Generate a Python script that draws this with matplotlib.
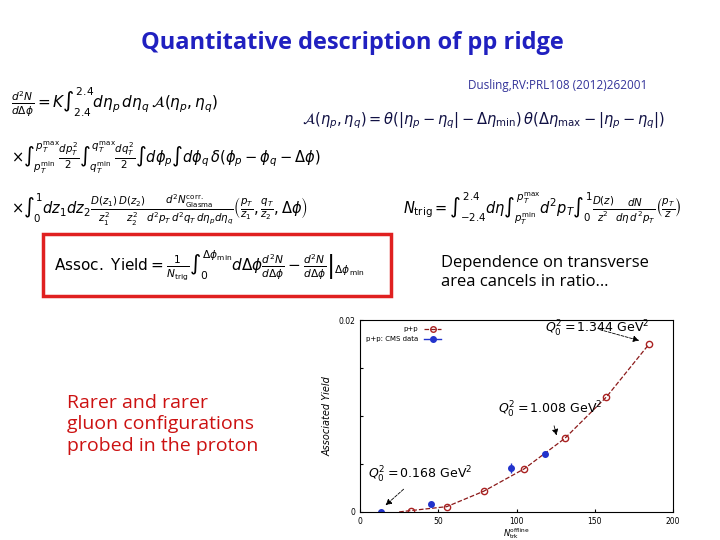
import numpy as np
import matplotlib.pyplot as plt
from matplotlib.patches import Rectangle

# model curve p+p (open circles) and CMS data (filled)
model_n = [32.4, 55.4, 78.9, 104.9, 130.7, 157.4, 184.4]
model_y = [0.00014, 0.00055, 0.00215, 0.0045, 0.00766, 0.0120, 0.01747]
line_n = [25, 32.4, 55.4, 78.9, 104.9, 130.7, 157.4, 184.4]
line_y = [0.0, 0.00014, 0.00055, 0.00215, 0.0045, 0.00766, 0.0120, 0.01747]
cms_n = [13.2, 45.6, 96.6, 118.1]
cms_y = [0.0, 0.00083, 0.00458, 0.00607]
cms_err = [0.0001, 0.0002, 0.0005, 0.0003]

fig = plt.figure(figsize=(7.2, 5.4), dpi=100)
fig.patch.set_facecolor("white")

fig.text(0.49, 0.91, "Quantitative description of pp ridge", ha="center",
         fontsize=17, fontweight="bold", color="#2020c0", family="Open Sans")
fig.text(0.65, 0.835, "Dusling,RV:PRL108 (2012)262001", fontsize=8.5,
         color="#333399", family="Open Sans")

fig.text(0.015, 0.80, r"$\frac{d^2N}{d\Delta\phi}=K\int_{2.4}^{2.4}d\eta_p\,d\eta_q\,\mathcal{A}(\eta_p,\eta_q)$",
         fontsize=11)
fig.text(0.42, 0.77, r"$\mathcal{A}(\eta_p,\eta_q)=\theta(|\eta_p-\eta_q|-\Delta\eta_{\min})\,\theta(\Delta\eta_{\max}-|\eta_p-\eta_q|)$",
         fontsize=10.5, color="#111144")
fig.text(0.015, 0.70, r"$\times\int_{p_T^{\min}}^{p_T^{\max}}\frac{dp_T^2}{2}\int_{q_T^{\min}}^{q_T^{\max}}\frac{dq_T^2}{2}\int d\phi_p\int d\phi_q\,\delta(\phi_p-\phi_q-\Delta\phi)$",
         fontsize=10.5)
fig.text(0.015, 0.605, r"$\times\int_0^1 dz_1 dz_2\frac{D(z_1)}{z_1^2}\frac{D(z_2)}{z_2^2}\frac{d^2N^{\rm corr.}_{\rm Glasma}}{d^2p_T\,d^2q_T\,d\eta_p d\eta_q}\left(\frac{p_T}{z_1},\frac{q_T}{z_2},\Delta\phi\right)$",
         fontsize=10.5)
fig.text(0.56, 0.605, r"$N_{\rm trig}=\int_{-2.4}^{2.4}d\eta\int_{p_T^{\min}}^{p_T^{\max}}d^2p_T\int_0^1\frac{D(z)}{z^2}\frac{dN}{d\eta\,d^2p_T}\left(\frac{p_T}{z}\right)$",
         fontsize=10.5)

fig.patches.append(Rectangle((0.06, 0.452), 0.483, 0.115, transform=fig.transFigure,
                             fill=False, edgecolor="#e02020", lw=2.5))
fig.text(0.075, 0.508, r"${\rm Assoc.\ Yield}=\frac{1}{N_{\rm trig}}\int_0^{\Delta\phi_{\min}}d\Delta\phi\left.\frac{d^2N}{d\Delta\phi}-\frac{d^2N}{d\Delta\phi}\right|_{\Delta\phi_{\min}}$",
         fontsize=11, va="center")

fig.text(0.613, 0.47, "Dependence on transverse\narea cancels in ratio…", fontsize=12,
         family="Open Sans", linespacing=1.3)
fig.text(0.093, 0.165, "Rarer and rarer\ngluon configurations\nprobed in the proton", fontsize=14,
         color="#cc1111", family="Open Sans", linespacing=1.25)

ax = fig.add_axes([0.5, 0.052, 0.435, 0.355])
ax.plot(line_n, line_y, "--", color="#8b1a1a", lw=0.9)
ax.plot(model_n, model_y, "o", mfc="none", mec="#aa2222", ms=4.5)
ax.errorbar(cms_n, cms_y, yerr=cms_err, fmt="o", color="#2233cc", ms=4,
            capsize=0, lw=1)
# legend proxies
ax.plot([], [], "--o", color="#8b1a1a", mfc="none", mec="#aa2222", ms=4, lw=0.9, label="p+p")
ax.plot([], [], "-o", color="#2233cc", ms=4, lw=1, label="p+p: CMS data")
ax.set_xlim(0, 200)
ax.set_ylim(0, 0.02)
ax.set_xticks([0, 50, 100, 150, 200])
ax.set_yticks([0, 0.005, 0.01, 0.015, 0.02])
ax.set_yticklabels(["0", "", "", "", "0.02"])
ax.tick_params(labelsize=5.5, direction="in", length=2)
ax.set_xlabel(r"$N_{\rm trk}^{\rm offline}$", fontsize=6, labelpad=0)
ax.set_ylabel("Associated Yield", fontsize=7, style="italic")
ax.legend(loc="upper left", fontsize=5, frameon=False, handlelength=2.5, markerfirst=False)

for txt, xy, xt in [(r"$Q_0^2=1.344\ {\rm GeV}^2$", (180, 0.0178), (118, 0.0187)),
                    (r"$Q_0^2=1.008\ {\rm GeV}^2$", (126, 0.0077), (88, 0.0102)),
                    (r"$Q_0^2=0.168\ {\rm GeV}^2$", (15, 0.0005), (5, 0.0035))]:
    ax.annotate(txt, xy=xy, xytext=xt, fontsize=9,
                arrowprops=dict(arrowstyle="-|>", ls="--", lw=0.6, color="black"))

fig.savefig("out.png", dpi=100)
